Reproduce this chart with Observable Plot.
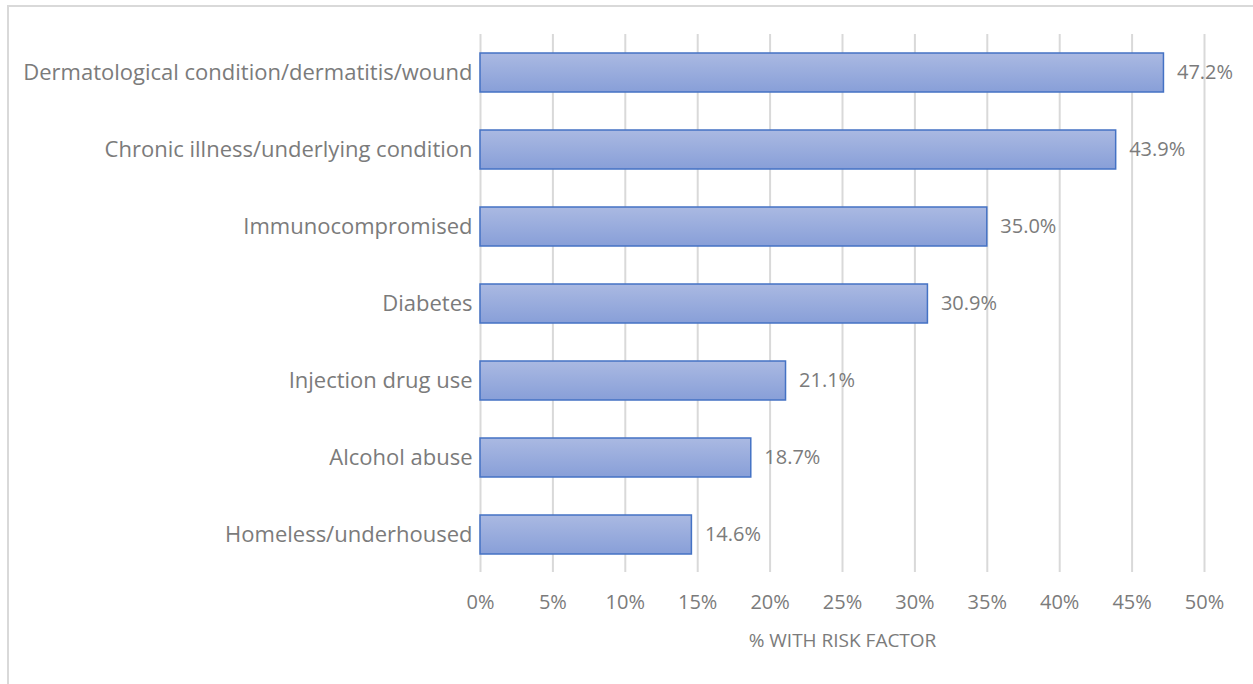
<!DOCTYPE html>
<html>
<head>
<meta charset="utf-8">
<script src="https://cdn.jsdelivr.net/npm/d3@7"></script>
<script src="https://cdn.jsdelivr.net/npm/@observablehq/plot@0.6"></script>
<style>
  html, body { margin: 0; padding: 0; background: #fff; }
  #wrap { position: relative; width: 1253px; height: 684px; overflow: hidden; }
  #frame { position: absolute; left: 7px; top: 5px; right: -10px; bottom: -10px;
           border-left: 2px solid #d9d9d9; border-top: 2px solid #d9d9d9; }
  #chart { position: absolute; left: 0; top: 0; }
</style>
</head>
<body>
<div id="wrap"><div id="frame"></div><div id="chart"></div></div>
<script>
const categories = [
  "Dermatological condition/dermatitis/wound",
  "Chronic illness/underlying condition",
  "Immunocompromised",
  "Diabetes",
  "Injection drug use",
  "Alcohol abuse",
  "Homeless/underhoused"
];
const values = [47.2, 43.9, 35.0, 30.9, 21.1, 18.7, 14.6];
const xTicks = [0, 5, 10, 15, 20, 25, 30, 35, 40, 45, 50];
const xLabel = "% WITH RISK FACTOR";

const data = categories.map((c, i) => ({category: c, value: values[i]}));
const gray = "#7b7b7b";
const font = "Open Sans, sans-serif";

const plot = Plot.plot({
  width: 1253,
  height: 684,
  marginLeft: 480,
  marginRight: 49,
  marginTop: 34,
  marginBottom: 112,
  style: {fontFamily: font, fontSize: "20px", color: gray, background: "transparent"},
  x: {domain: [0, 50], ticks: xTicks, tickFormat: d => d + "%", label: null},
  y: {domain: categories, paddingInner: 0.494, paddingOuter: 0.24, label: null},
  marks: [
    Plot.ruleX(xTicks, {stroke: "#d9d9d9", strokeWidth: 2}),
    Plot.barX(data, {y: "category", x: "value", fill: "url(#barGrad)", stroke: "#4472c4", strokeWidth: 1.5}),
    Plot.text(data, {y: "category", x: "value", text: d => d.value.toFixed(1) + "%", textAnchor: "start", dx: 13, fill: gray, fontSize: 20}),
    Plot.axisX({ticks: xTicks, tickFormat: d => d + "%", tickSize: 0, tickPadding: 22, fontSize: 20, fill: gray}),
    Plot.axisY({tickSize: 0, tickPadding: 8, fontSize: 22, fill: gray}),
    Plot.text([xLabel], {frameAnchor: "bottom", dy: 74, fontSize: 19, fill: gray})
  ]
});

const svgNS = "http://www.w3.org/2000/svg";
const defs = document.createElementNS(svgNS, "defs");
defs.innerHTML = '<linearGradient id="barGrad" x1="0" y1="0" x2="0" y2="1">' +
  '<stop offset="0" stop-color="#aab9e2"/><stop offset="1" stop-color="#889fd8"/></linearGradient>';
plot.insertBefore(defs, plot.firstChild);
document.getElementById("chart").appendChild(plot);
</script>
</body>
</html>
